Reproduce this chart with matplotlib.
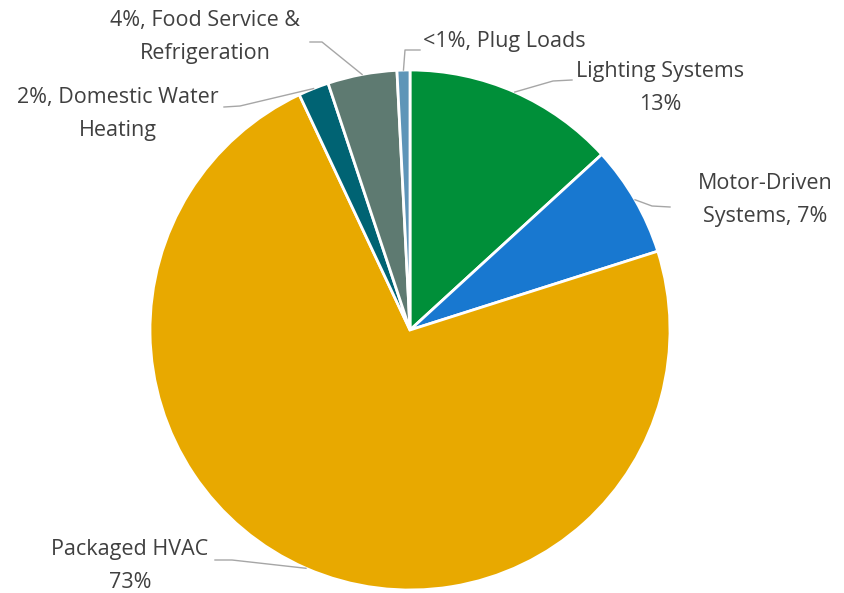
import numpy as np
import matplotlib.pyplot as plt

# Share of energy use by end use
labels = ['Lighting Systems\n13%', 'Motor-Driven\nSystems, 7%', 'Packaged HVAC\n73%',
          '2%, Domestic Water\nHeating', '4%, Food Service &\nRefrigeration', '<1%, Plug Loads']
shares = [13.2, 6.9, 72.9, 1.9, 4.3, 0.8]
colors = ['#008F39', '#1878D0', '#E8A900', '#006373', '#5E7A71', '#5E95B8']

W, H = 845, 593
fig = plt.figure(figsize=(W / 100, H / 100), dpi=100)
ax = fig.add_axes([0, 0, 1, 1])

cx, cy, r = 410, H - 330, 260
wedges, _ = ax.pie(shares, colors=colors, startangle=90, counterclock=False,
                   radius=r, center=(cx, cy),
                   wedgeprops=dict(edgecolor='white', linewidth=2))
ax.set_xlim(0, W)
ax.set_ylim(0, H)
ax.set_aspect('equal')
ax.axis('off')

# label text centres (image pixels, y down)
text_pos = [(660, 88), (765, 200), (130, 566), (118, 114), (205, 37), (504, 42)]
# leader line: start at the text, then an elbow point (image pixels)
line_start = [(572, 80), (670, 207), (215, 560), (224, 107), (310, 42), (420, 50)]
elbow = [(553, 81), (652, 206), (232, 560), (240, 106), (322, 42), (405, 50)]

for w, lab, (tx, ty), (lx, ly), (ex, ey) in zip(wedges, labels, text_pos, line_start, elbow):
    mid = np.deg2rad((w.theta1 + w.theta2) / 2)
    px, py = cx + r * np.cos(mid), cy + r * np.sin(mid)
    ax.text(tx, H - ty, lab, ha='center', va='center', fontsize=15.5, color='#404040',
            family='Open Sans', linespacing=1.75)
    ax.plot([lx, ex, px], [H - ly, H - ey, py], color='#A6A6A6', lw=1)

fig.savefig('out.png', dpi=100)
